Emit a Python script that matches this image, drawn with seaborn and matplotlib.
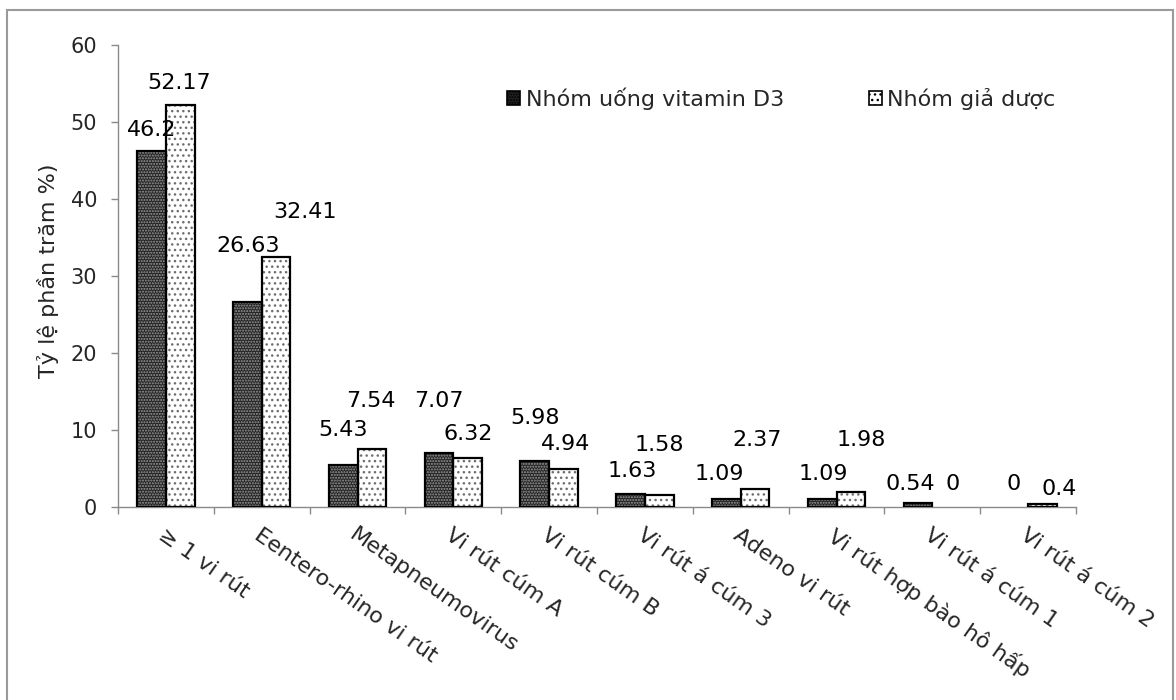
import numpy as np
import pandas as pd
import matplotlib
matplotlib.use("Agg")
import matplotlib.pyplot as plt
from matplotlib.patches import Rectangle, Patch
import seaborn as sns

# Virus detection rates (%) by study group
viruses = [
    "≥ 1 vi rút",
    "Eentero-rhino vi rút",
    "Metapneumovirus",
    "Vi rút cúm A",
    "Vi rút cúm B",
    "Vi rút á cúm 3",
    "Adeno vi rút",
    "Vi rút hợp bào hô hấp",
    "Vi rút á cúm 1",
    "Vi rút á cúm 2",
]
groups = ["Nhóm uống vitamin D3", "Nhóm giả dược"]
vitamin_d3 = [46.2, 26.63, 5.43, 7.07, 5.98, 1.63, 1.09, 1.09, 0.54, 0]
placebo = [52.17, 32.41, 7.54, 6.32, 4.94, 1.58, 2.37, 1.98, 0, 0.4]
y_ticks = [0, 10, 20, 30, 40, 50, 60]
y_label = "Tỷ lệ phần trăm %)"

# Label nudges (pixels) so that value labels do not collide
label_nudge = [
    [(0, 21), (1, 56), (0, 35), (0, 52), (0, 43), (2, 23), (-7, 25), (1, 25), (-8, 19), (0, 23)],
    [(-1, 22), (29, 45), (-1, 48), (1, 24), (2, 25), (0, 50), (2, 49), (10, 52), (6, 23), (17, 15)],
]

df = pd.DataFrame({
    "virus": viruses * 2,
    "group": [groups[0]] * len(viruses) + [groups[1]] * len(viruses),
    "pct": vitamin_d3 + placebo,
})

sns.set_theme(style="white")
plt.rcParams["font.family"] = ["DejaVu Sans"]

W, H = 1176, 700
fig = plt.figure(figsize=(W / 100, H / 100), dpi=100)
ax = fig.add_axes([118 / W, 1 - 507 / H, (1076 - 118) / W, (507 - 45) / H])

face_colors = ["#232323", "#ffffff"]
hatch_styles = ["......", "..."]
hatch_colors = ["#9a9a9a", "#6e6e6e"]

sns.barplot(data=df, x="virus", y="pct", hue="group", order=viruses,
            hue_order=groups, palette=face_colors, width=0.6, dodge=True,
            saturation=1, legend=False, ax=ax)

series = [vitamin_d3, placebo]
for k, cont in enumerate(ax.containers):
    for j, bar in enumerate(cont):
        bar.set_hatch(hatch_styles[k])
        bar.set_edgecolor(hatch_colors[k])
        bar.set_linewidth(0)
        val = series[k][j]
        x0, w = bar.get_x(), bar.get_width()
        if bar.get_height() > 0:
            ax.add_patch(Rectangle((x0, 0), w, bar.get_height(), fill=False,
                                   edgecolor="black", linewidth=1.6, zorder=3))
        dx, dy = label_nudge[k][j]
        ax.annotate(f"{val:g}", xy=(x0 + w / 2, bar.get_height()),
                    xytext=(dx, dy), textcoords="offset pixels",
                    ha="center", va="center", fontsize=16, color="black")

ax.set_xlim(-0.5, len(viruses) - 0.5)
ax.set_ylim(0, 60)
ax.set_yticks(y_ticks)
ax.set_yticklabels([str(t) for t in y_ticks], fontsize=15)
ax.set_xticks(range(len(viruses)))
ax.set_xticklabels(viruses, rotation=-35, ha="left", va="top",
                   rotation_mode="anchor", fontsize=16)
ax.set_xticks(np.arange(-0.5, len(viruses)), minor=True)
ax.tick_params(axis="x", which="major", length=0, pad=13)
ax.tick_params(axis="x", which="minor", length=5, width=1, color="#8a8a8a",
               direction="out", bottom=True)
ax.tick_params(axis="y", which="major", length=5, width=1, color="#8a8a8a",
               direction="out", left=True, pad=10)
ax.set_xlabel("")
ax.set_ylabel("")

for side in ["top", "right"]:
    ax.spines[side].set_visible(False)
for side in ["left", "bottom"]:
    ax.spines[side].set_color("#8a8a8a")
    ax.spines[side].set_linewidth(1)
ax.grid(False)

fig.text(48 / W, 1 - 271 / H, y_label, rotation=90, ha="center", va="center",
         fontsize=16)

handles = [Patch(facecolor=face_colors[i], edgecolor=hatch_colors[i],
                 hatch=hatch_styles[i], linewidth=0) for i in range(2)]
leg = fig.legend(handles, groups, loc="center left",
                 bbox_to_anchor=(507 / W, 1 - 99 / H), ncol=2, frameon=False,
                 fontsize=16, handlelength=0.6, handleheight=0.6,
                 handletextpad=0.25, columnspacing=3.8, borderpad=0,
                 borderaxespad=0)
for h in leg.legend_handles:
    h.set_edgecolor("black")
    h.set_linewidth(1.2)

# Outer chart frame
fig.patches.append(Rectangle((7 / W, -0.02), (1173 - 7) / W, 1 - 10 / H + 0.02,
                             transform=fig.transFigure, fill=False,
                             edgecolor="#9a9a9a", linewidth=1.5))

fig.savefig("out.png", dpi=100)
